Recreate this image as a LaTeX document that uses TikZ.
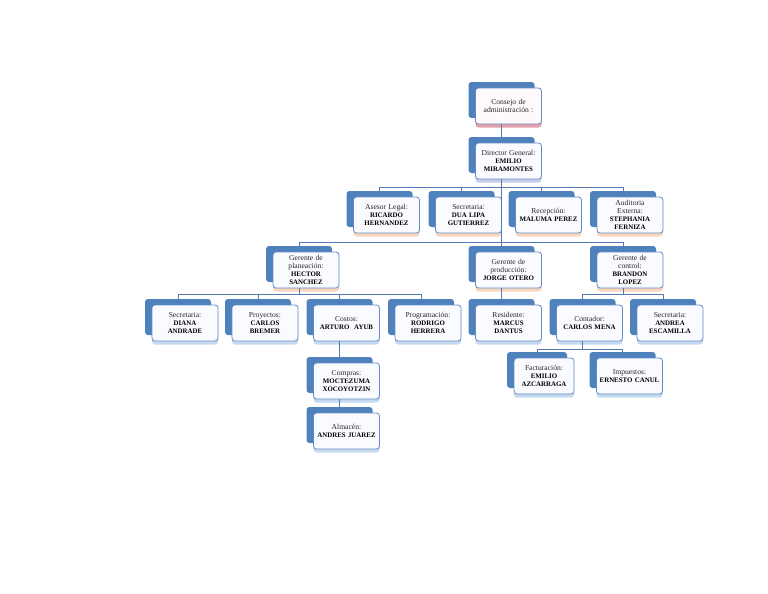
\documentclass[tikz,border=0pt]{standalone}
\usepackage{fontspec}
\setmainfont{Liberation Serif}
\usetikzlibrary{shadows}
\definecolor{backblue}{RGB}{79,129,189}
\definecolor{boxline}{RGB}{98,138,198}
\definecolor{boxfill}{RGB}{250,251,254}
\definecolor{linecol}{RGB}{84,122,180}
\definecolor{peach}{RGB}{249,214,190}
\definecolor{lightblue}{RGB}{196,218,240}
\definecolor{pinkish}{RGB}{230,160,170}
\definecolor{lavender}{RGB}{196,204,234}
\definecolor{labelgray}{RGB}{40,40,40}
\newcommand\lbl[1]{{\color{labelgray}\fontsize{7.6}{7.8}\selectfont#1}}
\begin{document}
\begin{tikzpicture}[x=1pt,y=-1pt,
  orgbox/.style={rectangle, draw=boxline, line width=0.8pt, fill=boxfill,
    rounded corners=3pt, minimum width=66pt, minimum height=36pt,
    text width=62pt, align=center, inner sep=2pt,
    font=\fontsize{6.9}{7.8}\selectfont},
  backsh/.style={general shadow={fill=backblue, shadow xshift=-7pt, shadow yshift=6pt}},
  shpeach/.style={general shadow={fill=peach, shadow yshift=-3.5pt}},
  shblue/.style={general shadow={fill=lightblue, shadow yshift=-3.5pt}},
  shpink/.style={general shadow={fill=pinkish, shadow yshift=-3.5pt}},
  shlav/.style={general shadow={fill=lavender, shadow yshift=-3.5pt}},
  conn/.style={draw=linecol, line width=0.7pt}
]
\useasboundingbox (0,0) rectangle (768,594);

% level 0-1
\node[orgbox, shpink, backsh, fill=white!94!pinkish] (cons) at (508.5,106) {\lbl{Consejo de\\administración :}};
\node[orgbox, shlav, backsh] (dir) at (508.5,161) {\lbl{Director General:}\\\textbf{EMILIO\\MIRAMONTES}};

% staff row
\node[orgbox, shpeach, backsh] (ase) at (386.5,215) {\lbl{Asesor Legal:}\\\textbf{RICARDO\\HERNANDEZ}};
\node[orgbox, shpeach, backsh] (sec1) at (468.5,215) {\lbl{Secretaria:}\\\textbf{DUA LIPA\\GUTIERREZ}};
\node[orgbox, shpeach, backsh] (rec) at (548.5,215) {\lbl{Recepción:}\\\textbf{MALUMA PEREZ}};
\node[orgbox, shpeach, backsh] (aud) at (630,215) {\lbl{Auditoria\\Externa:}\\\textbf{STEPHANIA\\FERNIZA}};

% managers
\node[orgbox, shpeach, backsh] (gpl) at (306,270) {\lbl{Gerente de\\planeación:}\\\textbf{HECTOR\\SANCHEZ}};
\node[orgbox, shpeach, backsh] (gpr) at (508.5,270) {\lbl{Gerente de\\producción:}\\\textbf{JORGE OTERO}};
\node[orgbox, shpeach, backsh] (gco) at (630,270) {\lbl{Gerente de\\control:}\\\textbf{BRANDON\\LOPEZ}};

% row 4
\node[orgbox, shblue, backsh] (sec2) at (185,323) {\lbl{Secretaria:}\\\textbf{DIANA\\ANDRADE}};
\node[orgbox, shblue, backsh] (pro) at (265,323) {\lbl{Proyectos:}\\\textbf{CARLOS\\BREMER}};
\node[orgbox, shblue, backsh] (cos) at (346.5,323) {\lbl{Costos:}\\\textbf{ARTURO\ \ AYUB}};
\node[orgbox, shblue, backsh] (prg) at (428,323) {\lbl{Programación:}\\\textbf{RODRIGO\\HERRERA}};
\node[orgbox, shblue, backsh] (res) at (508.5,323) {\lbl{Residente:}\\\textbf{MARCUS\\DANTUS}};
\node[orgbox, shblue, backsh] (con) at (589.5,323) {\lbl{Contador:}\\\textbf{CARLOS MENA}};
\node[orgbox, shblue, backsh] (sec3) at (670,323) {\lbl{Secretaria:}\\\textbf{ANDREA\\ESCAMILLA}};

% row 5-6
\node[orgbox, shblue, backsh] (com) at (346.5,381) {\lbl{Compras:}\\\textbf{MOCTEZUMA\\XOCOYOTZIN}};
\node[orgbox, shblue, backsh] (alm) at (346.5,431) {\lbl{Almacén:}\\\textbf{ANDRES JUAREZ}};
\node[orgbox, shblue, backsh, minimum width=60pt, text width=56pt] (fac) at (544,376) {\lbl{Facturación:}\\\textbf{EMILIO\\AZCARRAGA}};
\node[orgbox, shblue, backsh] (imp) at (629.5,376) {\lbl{Impuestos:}\\\textbf{ERNESTO CANUL}};

% connectors
\draw[conn] ([xshift=-7pt]cons.south) -- ([xshift=-7pt,yshift=6pt]dir.north);
\foreach \c in {ase,sec1,rec,aud}
  \draw[conn] ([xshift=-7pt]dir.south) -- ++(0,8) -| ([xshift=-7pt,yshift=6pt]\c.north);
\foreach \c in {gpl,gpr,gco}
  \draw[conn] ([xshift=-7pt]dir.south) -- ++(0,63) -| ([xshift=-7pt,yshift=6pt]\c.north);
\foreach \c in {sec2,pro,cos,prg}
  \draw[conn] ([xshift=-7pt]gpl.south) -- ++(0,6) -| ([xshift=-7pt,yshift=6pt]\c.north);
\draw[conn] ([xshift=-7pt]gpr.south) -- ([xshift=-7pt,yshift=6pt]res.north);
\foreach \c in {con,sec3}
  \draw[conn] ([xshift=-7pt]gco.south) -- ++(0,6) -| ([xshift=-7pt,yshift=6pt]\c.north);
\draw[conn] ([xshift=-7pt]cos.south) -- ([xshift=-7pt,yshift=6pt]com.north);
\draw[conn] ([xshift=-7pt]com.south) -- ([xshift=-7pt,yshift=6pt]alm.north);
\foreach \c in {fac,imp}
  \draw[conn] ([xshift=-7pt]con.south) -- ++(0,8) -| ([xshift=-7pt,yshift=6pt]\c.north);
\end{tikzpicture}
\end{document}
